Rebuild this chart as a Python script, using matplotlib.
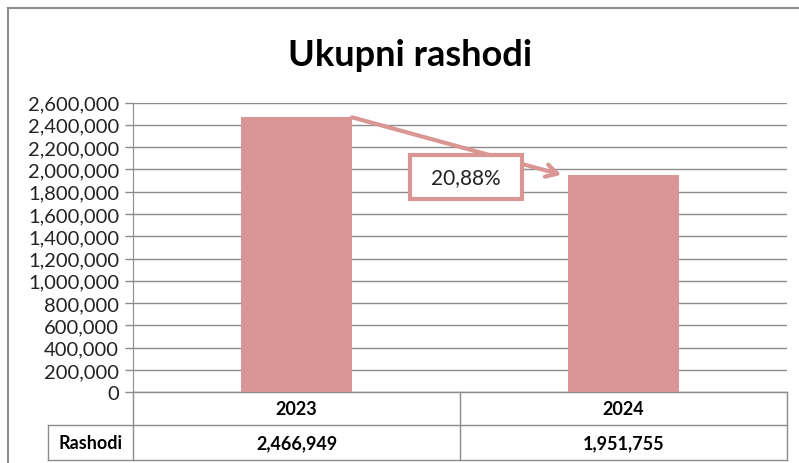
import numpy as np
import matplotlib
matplotlib.use("Agg")
import matplotlib.pyplot as plt
from matplotlib.patches import Rectangle
from matplotlib.lines import Line2D
from matplotlib.ticker import FuncFormatter

#---------> data
years = ["2023", "2024"]
rashodi = [2466949, 1951755]
row_label = "Rashodi"
change_label = "20,88%"
y_ticks = np.arange(0, 2600001, 200000)

bar_color = "#D99694"
grid_color = "#8C8C8C"

plt.rcParams["font.family"] = ["Lato", "DejaVu Sans"]

W, H = 799, 464
fig = plt.figure(figsize=(W / 100, H / 100), dpi=100)

# plot area in pixels: x 133..787, y 103.5..393.3
left, right, top, bottom = 133, 787, 103.5, 393.3
ax = fig.add_axes([left / W, 1 - bottom / H, (right - left) / W, (bottom - top) / H])

x = np.arange(len(years))
ax.bar(x, rashodi, width=0.34, color=bar_color, zorder=3)

ax.set_xlim(-0.5, len(years) - 0.5)
ax.set_ylim(0, 2600000)
ax.set_yticks(y_ticks)
ax.yaxis.set_major_formatter(FuncFormatter(lambda v, p: f"{int(v):,}"))
ax.tick_params(axis="y", length=6, width=1, color=grid_color, labelsize=14.5,
               labelcolor="#222222", pad=4)
ax.set_xticks([])
ax.grid(axis="y", color=grid_color, linewidth=1, zorder=0)
for s in ["top", "right", "bottom"]:
    ax.spines[s].set_visible(False)
ax.spines["left"].set_color(grid_color)

# ---------> data table under the plot
def ax_y(px):
    return (bottom - px) / (bottom - top)

def ax_x(px):
    return (px - left) / (right - left)

row1, row2 = ax_y(426), ax_y(461)
xl, xm = ax_x(48), ax_x(460)
lines = [
    ([xl, 1], [row1, row1]),
    ([xl, 1], [row2, row2]),
    ([xl, xl], [row1, row2]),
    ([0, 0], [0, row2]),
    ([xm, xm], [0, row2]),
    ([1, 1], [0, row2]),
    ([0, 1], [0, 0]),
]
for lx, ly in lines:
    ax.add_line(Line2D(lx, ly, transform=ax.transAxes, color=grid_color,
                       linewidth=1, clip_on=False))

for i, (yr, val) in enumerate(zip(years, rashodi)):
    ax.text(i, (0 + row1) / 2, yr, transform=ax.get_xaxis_transform(),
            ha="center", va="center", fontsize=13, fontweight="bold")
    ax.text(i, (row1 + row2) / 2, f"{val:,}", transform=ax.get_xaxis_transform(),
            ha="center", va="center", fontsize=13, fontweight="bold")
ax.text((xl + 0) / 2, (row1 + row2) / 2, row_label, transform=ax.transAxes,
        ha="center", va="center", fontsize=13, fontweight="bold")

# ---------> change arrow with label box
ax.annotate("", xy=(1 - 0.19, rashodi[1]), xytext=(0.17, rashodi[0]),
            arrowprops=dict(arrowstyle="->,head_length=0.8,head_width=0.45",
                            color=bar_color, lw=3, shrinkA=0, shrinkB=0),
            zorder=4)
bx0, bx1 = ax_x(410), ax_x(522)
by0, by1 = ax_y(200), ax_y(156)
ax.add_patch(Rectangle((bx0, by0), bx1 - bx0, by1 - by0, transform=ax.transAxes,
                       facecolor="white", edgecolor=bar_color, lw=3, zorder=5))
ax.text((bx0 + bx1) / 2, (by0 + by1) / 2, change_label, transform=ax.transAxes,
        ha="center", va="center", fontsize=15, color="#222222", zorder=6)

# ---------> title and outer frame
fig.text(0.513, 1 - 55 / H, "Ukupni rashodi", ha="center", va="center",
         fontsize=26, fontweight="bold")
fig.add_artist(Line2D([8 / W, 1], [1 - 9.3 / H, 1 - 9.3 / H], color=grid_color, lw=1.5))
fig.add_artist(Line2D([8 / W, 8 / W], [0, 1 - 9.3 / H], color=grid_color, lw=1.5))

fig.savefig("out.png", dpi=100)
